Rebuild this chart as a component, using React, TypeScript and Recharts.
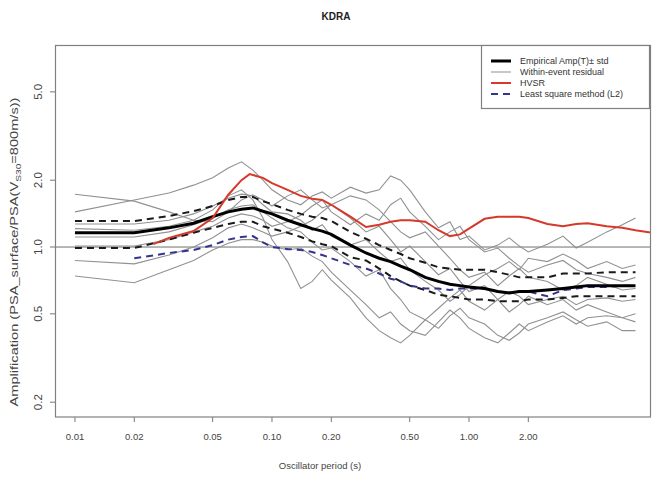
import React from "react";
import { LineChart, Line, XAxis, YAxis, ReferenceLine } from "recharts";

const FONT = "'Liberation Sans', Arial, sans-serif";

// oscillator periods (s)
const periods = [0.01, 0.02, 0.03, 0.04, 0.05, 0.06, 0.07, 0.08, 0.09, 0.1, 0.12, 0.14, 0.16, 0.18, 0.2, 0.25, 0.3, 0.35, 0.4, 0.45, 0.5, 0.6, 0.7, 0.8, 0.9, 1.0, 1.2, 1.4, 1.6, 1.8, 2.0, 2.5, 3.0, 3.5, 4.0, 5.0, 6.0, 7.0];

const empirical = [1.16, 1.16, 1.22, 1.28, 1.37, 1.44, 1.48, 1.5, 1.45, 1.41, 1.32, 1.26, 1.21, 1.18, 1.14, 1.02, 0.94, 0.89, 0.86, 0.82, 0.79, 0.73, 0.7, 0.68, 0.67, 0.66, 0.65, 0.63, 0.62, 0.63, 0.63, 0.64, 0.65, 0.66, 0.67, 0.67, 0.67, 0.67];
const stdUpper = [1.31, 1.31, 1.38, 1.45, 1.53, 1.63, 1.68, 1.68, 1.61, 1.56, 1.47, 1.41, 1.37, 1.35, 1.31, 1.17, 1.09, 1.02, 0.97, 0.93, 0.89, 0.85, 0.81, 0.8, 0.79, 0.79, 0.79, 0.77, 0.75, 0.73, 0.73, 0.73, 0.76, 0.76, 0.76, 0.77, 0.77, 0.77];
const stdLower = [0.99, 0.99, 1.08, 1.16, 1.22, 1.27, 1.3, 1.3, 1.24, 1.21, 1.16, 1.11, 1.06, 1.03, 1.01, 0.9, 0.87, 0.8, 0.74, 0.7, 0.67, 0.64, 0.61, 0.6, 0.59, 0.58, 0.58, 0.57, 0.57, 0.57, 0.58, 0.58, 0.59, 0.6, 0.6, 0.6, 0.6, 0.6];
const leastSquare = [null, 0.89, 0.94, 0.97, 1.02, 1.08, 1.11, 1.12, 1.05, 1.0, 0.98, 0.97, 0.95, 0.92, 0.89, 0.83, 0.8, 0.76, 0.72, 0.7, 0.67, 0.65, 0.65, 0.64, 0.65, 0.65, 0.65, 0.63, 0.62, 0.63, 0.63, 0.6, 0.64, 0.65, 0.66, 0.66, 0.67, 0.67];

// within-event residual curves
const resA = [1.73, 1.61, 1.44, 1.32, 1.3, 1.44, 1.63, 1.72, 1.63, 1.53, 1.7, 1.81, 1.63, 1.5, 1.55, 1.35, 1.17, 1.24, 1.08, 0.95, 1.01, 0.86, 0.75, 0.8, 0.7, 0.63, 0.67, 0.58, 0.51, 0.55, 0.6, 0.55, 0.58, 0.52, 0.55, 0.51, 0.48, 0.5];
const resB = [1.44, 1.63, 1.75, 1.9, 2.05, 2.27, 2.42, 2.22, 2.0, 1.81, 1.63, 1.55, 1.7, 1.77, 1.66, 1.86, 1.75, 1.81, 2.09, 2.0, 1.81, 1.44, 1.22, 1.3, 1.08, 1.12, 0.97, 1.02, 1.1, 1.01, 0.95, 1.03, 1.12, 0.99, 1.05, 1.17, 1.26, 1.35];
const resC = [1.21, 1.19, 1.24, 1.32, 1.47, 1.7, 1.81, 1.63, 1.35, 1.08, 0.86, 0.65, 0.7, 0.79, 0.71, 0.59, 0.48, 0.42, 0.39, 0.37, 0.4, 0.47, 0.43, 0.49, 0.53, 0.48, 0.45, 0.4, 0.38, 0.41, 0.45, 0.48, 0.51, 0.47, 0.44, 0.46, 0.42, 0.42];
const resD = [1.11, 1.11, 1.17, 1.26, 1.35, 1.47, 1.53, 1.55, 1.44, 1.35, 1.22, 1.17, 1.05, 0.97, 0.99, 0.86, 0.74, 0.79, 0.65, 0.58, 0.51, 0.47, 0.53, 0.59, 0.64, 0.57, 0.52, 0.58, 0.63, 0.6, 0.55, 0.58, 0.6, 0.55, 0.58, 0.59, 0.57, 0.58];
const resE = [0.87, 0.84, 0.92, 1.0, 1.1, 1.22, 1.27, 1.22, 1.17, 1.12, 1.17, 1.24, 1.32, 1.44, 1.55, 1.7, 1.63, 1.47, 1.3, 1.17, 1.1, 1.17, 1.01, 0.89, 0.79, 0.73, 0.77, 0.67, 0.74, 0.8, 0.73, 0.7, 0.64, 0.67, 0.73, 0.68, 0.64, 0.65];
const resF = [0.74, 0.69, 0.79, 0.87, 0.97, 1.04, 1.08, 1.08, 1.05, 1.01, 0.97, 0.99, 0.91, 0.86, 0.77, 0.64, 0.55, 0.48, 0.51, 0.45, 0.42, 0.4, 0.46, 0.52, 0.48, 0.43, 0.39, 0.37, 0.41, 0.45, 0.42, 0.46, 0.49, 0.45, 0.48, 0.49, 0.48, 0.46];
const resG = [1.27, 1.27, 1.32, 1.41, 1.53, 1.66, 1.73, 1.7, 1.55, 1.44, 1.41, 1.32, 1.19, 1.26, 1.12, 1.02, 1.08, 0.95, 0.86, 0.89, 0.79, 0.7, 0.64, 0.57, 0.61, 0.67, 0.75, 0.8, 0.86, 0.79, 0.89, 0.86, 0.93, 0.87, 0.8, 0.86, 0.8, 0.83];
const resH = [1.01, 1.01, 1.08, 1.17, 1.24, 1.35, 1.41, 1.38, 1.32, 1.24, 1.3, 1.39, 1.53, 1.63, 1.44, 1.26, 1.41, 1.32, 1.55, 1.66, 1.44, 1.24, 1.08, 1.17, 1.24, 1.08, 0.95, 0.99, 0.89, 0.82, 0.77, 0.83, 0.87, 0.79, 0.76, 0.73, 0.7, 0.73];
const residuals = [resA, resB, resC, resD, resE, resF, resG, resH];

// HVSR curve
const hvsrPeriods = [0.025, 0.03, 0.04, 0.05, 0.06, 0.07, 0.077, 0.09, 0.1, 0.12, 0.14, 0.16, 0.18, 0.2, 0.25, 0.3, 0.35, 0.4, 0.45, 0.5, 0.6, 0.7, 0.8, 0.9, 1.0, 1.2, 1.4, 1.6, 1.8, 2.0, 2.5, 3.0, 3.5, 4.0, 5.0, 6.0, 7.0, 8.0, 9.0];
const hvsr = [1.03, 1.1, 1.18, 1.35, 1.72, 2.0, 2.13, 2.05, 1.94, 1.81, 1.7, 1.65, 1.63, 1.55, 1.37, 1.23, 1.26, 1.3, 1.32, 1.32, 1.3, 1.19, 1.12, 1.14, 1.21, 1.34, 1.37, 1.37, 1.37, 1.35, 1.27, 1.24, 1.27, 1.28, 1.24, 1.22, 1.19, 1.17, 1.15];

const xTicks = [0.01, 0.02, 0.05, 0.1, 0.2, 0.5, 1, 2];
const yTicks = [0.2, 0.5, 1, 2, 5];

const table = periods.map((T, i) => {
  const row: Record<string, number | null> = {
    T,
    mean: empirical[i],
    up: stdUpper[i],
    lo: stdLower[i],
    l2: leastSquare[i],
  };
  residuals.forEach((r, k) => {
    row["r" + k] = r[i];
  });
  return row;
});
const hvsrData = hvsrPeriods.map((T, i) => ({ T, hvsr: hvsr[i] }));

function YTick(props: any) {
  const { x, y, payload } = props;
  return (
    <text
      x={0}
      y={0}
      transform={`translate(${x},${y}) rotate(-90) scale(1.15,1)`}
      textAnchor="middle"
      fontSize={10}
      fill="#444"
      fontFamily={FONT}
    >
      {Number(payload.value).toFixed(1)}
    </text>
  );
}

export default function App() {
  return (
    <div style={{ position: "absolute", left: 0, top: 0, width: 652, height: 477, overflow: "hidden", background: "#fff" }}>
      <LineChart width={652} height={477} data={table} margin={{ top: 45, right: 1, bottom: 0, left: 0 }}>
        <XAxis
          dataKey="T"
          type="number"
          scale="log"
          domain={[0.00792, 8.39]}
          allowDataOverflow
          ticks={xTicks}
          tickFormatter={(v: number) => v.toFixed(2)}
          height={60}
          axisLine={false}
          tickLine={{ stroke: "#777" }}
          tickSize={5}
          tickMargin={11}
          tick={{ fontSize: 9.5, fill: "#444", fontFamily: FONT }}
        />
        <YAxis
          type="number"
          scale="log"
          domain={[0.1715, 8.13]}
          allowDataOverflow
          ticks={yTicks}
          width={55}
          axisLine={false}
          tickLine={{ stroke: "#777" }}
          tickSize={5}
          tickMargin={8}
          tick={<YTick />}
        />
        <ReferenceLine y={1} stroke="#6e6e6e" strokeWidth={1} />
        {residuals.map((_, k) => (
          <Line
            key={k}
            dataKey={"r" + k}
            stroke="#919191"
            strokeWidth={1.1}
            dot={false}
            isAnimationActive={false}
          />
        ))}
        <Line dataKey="up" stroke="#1a1a1a" strokeWidth={2} strokeDasharray="7 5" dot={false} isAnimationActive={false} />
        <Line dataKey="lo" stroke="#1a1a1a" strokeWidth={2} strokeDasharray="7 5" dot={false} isAnimationActive={false} />
        <Line dataKey="l2" stroke="#34348f" strokeWidth={2} strokeDasharray="7 5" dot={false} isAnimationActive={false} />
        <Line dataKey="mean" stroke="#000" strokeWidth={3} dot={false} isAnimationActive={false} />
        <Line data={hvsrData} dataKey="hvsr" stroke="#d6392b" strokeWidth={2} dot={false} isAnimationActive={false} />
      </LineChart>

      <svg width={652} height={477} style={{ position: "absolute", left: 0, top: 0, pointerEvents: "none" }}>
        <rect x={55.5} y={45.5} width={595} height={371.5} fill="none" stroke="#808080" strokeWidth={1.2} />
        <text x={336} y={20} textAnchor="middle" fontSize={10} fontWeight="bold" fill="#222" fontFamily={FONT}>
          KDRA
        </text>
        <text x={320} y={469} textAnchor="middle" fontSize={9.5} fill="#444" fontFamily={FONT}>
          Oscillator period (s)
        </text>
        <text
          transform="translate(18,252) rotate(-90) scale(1.46,1)"
          textAnchor="middle"
          fontSize={10}
          fill="#444"
          fontFamily={FONT}
        >
          Amplification (PSA_surface/PSA(V
          <tspan fontSize={7} dy={3}>S30</tspan>
          <tspan dy={-3}>=800m/s))</tspan>
        </text>

        <rect x={481.5} y={45.5} width={168} height={63} fill="#fff" stroke="#808080" strokeWidth={1.2} />
        <line x1={491} x2={511} y1={61} y2={61} stroke="#000" strokeWidth={3} />
        <line x1={491} x2={511} y1={72} y2={72} stroke="#919191" strokeWidth={1} />
        <line x1={491} x2={511} y1={83} y2={83} stroke="#d6392b" strokeWidth={2} />
        <line x1={491} x2={511} y1={94} y2={94} stroke="#34348f" strokeWidth={2} strokeDasharray="7 5" />
        <g fontSize={9} fill="#333" fontFamily={FONT}>
          <text x={520} y={64}>Empirical Amp(T)± std</text>
          <text x={520} y={75}>Within-event residual</text>
          <text x={520} y={86}>HVSR</text>
          <text x={520} y={97}>Least square method (L2)</text>
        </g>
      </svg>
    </div>
  );
}
